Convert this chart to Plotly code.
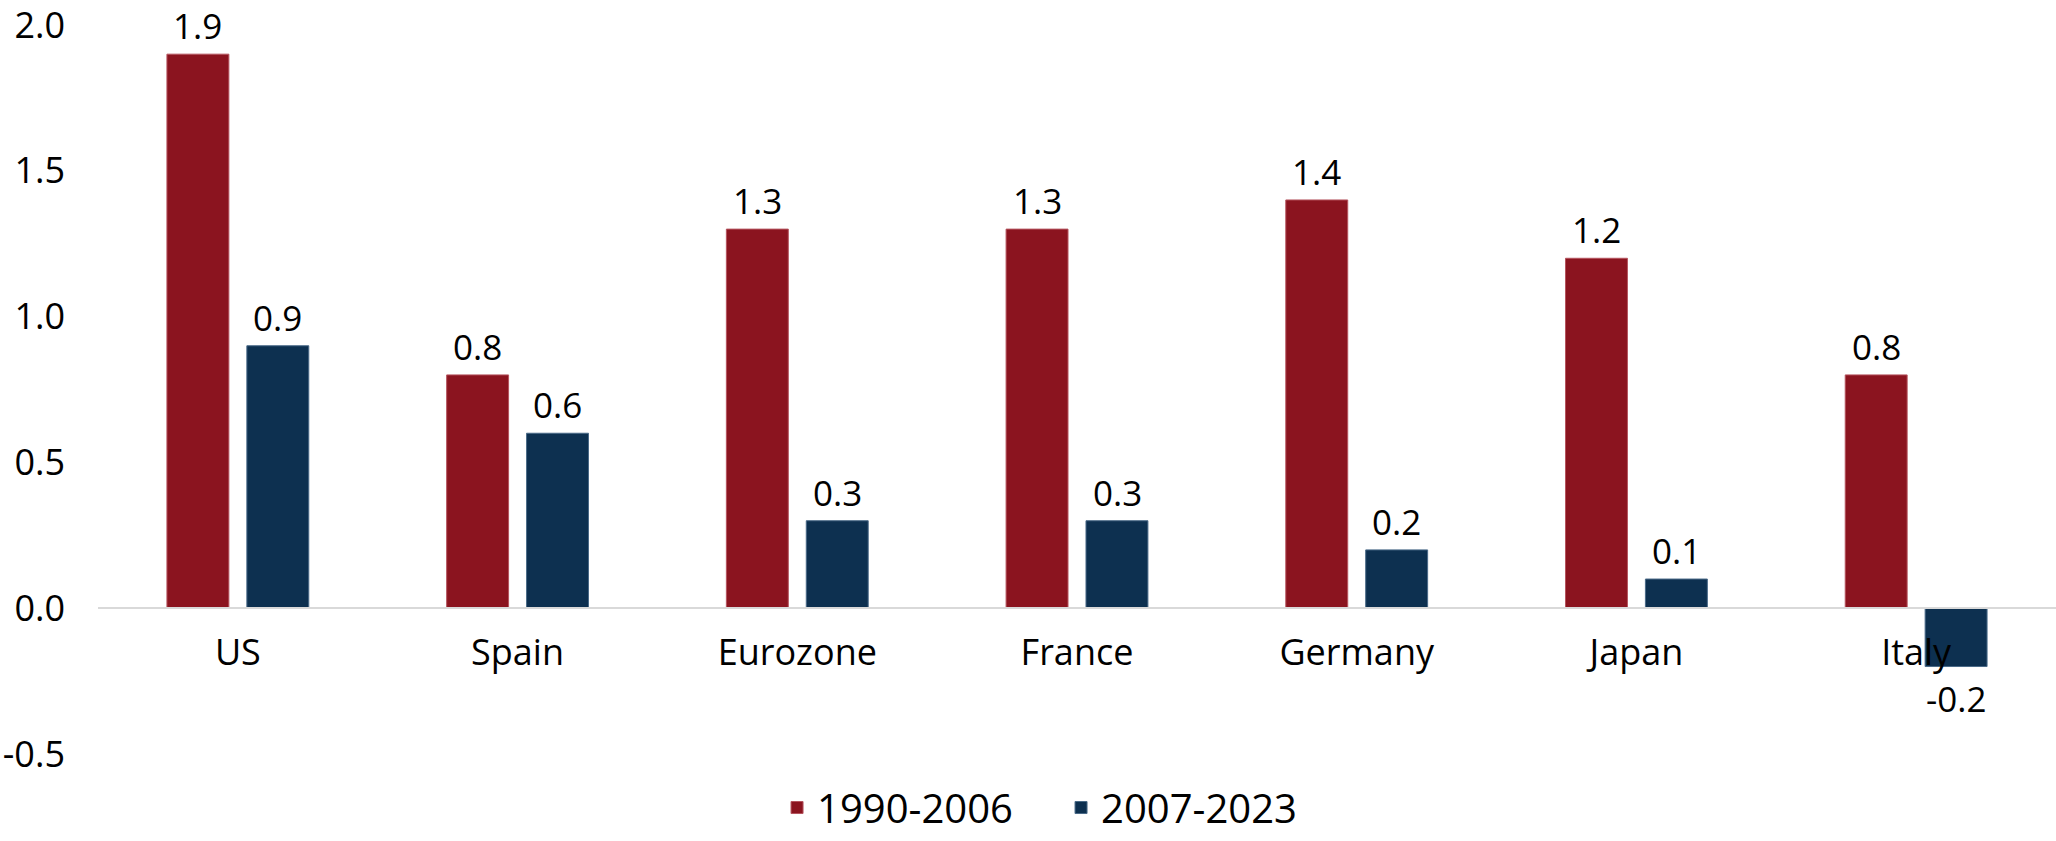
import plotly.graph_objects as go

categories = ["US", "Spain", "Eurozone", "France", "Germany", "Japan", "Italy"]
series_names = ["1990-2006", "2007-2023"]
values_1990_2006 = [1.9, 0.8, 1.3, 1.3, 1.4, 1.2, 0.8]
values_2007_2023 = [0.9, 0.6, 0.3, 0.3, 0.2, 0.1, -0.2]
y_ticks = [-0.5, 0.0, 0.5, 1.0, 1.5, 2.0]
y_tick_labels = [f"{v:.1f}" for v in y_ticks]

colors = ["#8B141F", "#0D3050"]
outline = ["#B5545E", "#4A6A88"]
FONT = "Open Sans"
FS = 36

fig = go.Figure()
for name, vals, c, oc in zip(series_names, [values_1990_2006, values_2007_2023], colors, outline):
    fig.add_trace(go.Bar(
        x=categories, y=vals, name=name,
        marker=dict(color=c, line=dict(color=oc, width=1)),
    ))

annotations = []
for vals, shift in zip([values_1990_2006, values_2007_2023], [-40, 40]):
    for cat, v in zip(categories, vals):
        annotations.append(dict(
            x=cat, y=v, xref="x", yref="y", text=f"{v:.1f}", showarrow=False,
            xshift=shift, yshift=3 if v >= 0 else -6,
            yanchor="bottom" if v >= 0 else "top",
            font=dict(family=FONT, size=35, color="#000000"),
        ))

fig.update_layout(
    width=2056, height=841,
    margin=dict(l=98, r=0, t=22, b=87),
    paper_bgcolor="white", plot_bgcolor="white",
    barmode="group", bargap=0.4286, bargroupgap=0.225,
    font=dict(family=FONT, size=FS, color="#000000"),
    showlegend=True,
    legend=dict(
        orientation="h", x=0.3468, xanchor="left",
        y=-0.118, yanchor="bottom",
        font=dict(family=FONT, size=40, color="#000000"),
        entrywidthmode="pixels", entrywidth=239,
        traceorder="normal",
    ),
    annotations=annotations,
)
fig.update_xaxes(
    anchor="free", position=0.2, showline=True, linecolor="#D9D9D9", linewidth=2,
    ticks="", showgrid=False, zeroline=False,
    tickfont=dict(family=FONT, size=FS, color="#000000"),
    ticklabelstandoff=13,
)
fig.update_yaxes(
    range=[-0.5, 2.0], tickvals=y_ticks, ticktext=y_tick_labels,
    showgrid=False, zeroline=False, showline=False, ticks="",
    tickfont=dict(family=FONT, size=FS, color="#000000"),
    ticklabelstandoff=32, ticklabeloverflow="allow",
)

fig.write_html("out.html")
